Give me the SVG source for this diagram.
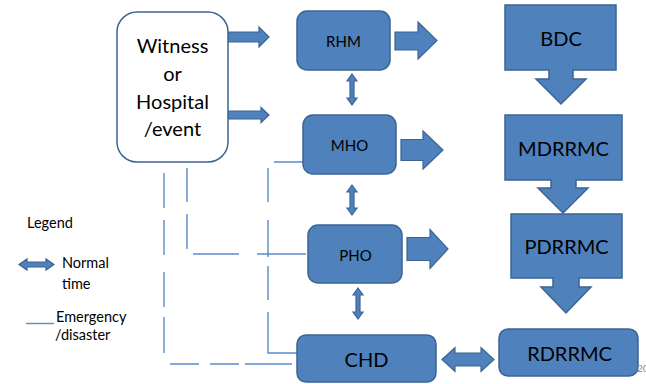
<svg xmlns="http://www.w3.org/2000/svg" width="646" height="384" viewBox="0 0 646 384">
  <style>
    .box { fill: #4F81BD; stroke: #3B6594; stroke-width: 1.5; }
    .src { fill: #FFFFFF; stroke: #3B6594; stroke-width: 1.5; }
    .arr { fill: #4F81BD; stroke: #3B6594; stroke-width: 1.2; stroke-linejoin: miter; }
    .dash { fill: none; stroke: #5B8BCB; stroke-width: 1.4; }
    text { font-family: Lato, "Liberation Sans", sans-serif; fill: #000000; text-anchor: middle; }
    .big { font-size: 20px; }
    .small { font-size: 15px; }
    .leg { font-size: 14.5px; text-anchor: start; }
  </style>

  <rect width="646" height="384" fill="#FFFFFF"/>

  <!-- emergency / disaster paths (dashed) -->
  <g id="connectors">
    <path class="dash" d="M164,173 V364 H297" stroke-dasharray="35 12 35 17 35 10 36 17 29 11 29 6 47 10"/>
    <path class="dash" d="M187,168 V254 H308" stroke-dasharray="34 12 35 11 46 18 49"/>
    <path class="dash" d="M303,162 H268 V353 H297" stroke-dasharray="29 12 34 18 37 9 34 12 70"/>

    <!-- normal-time links -->
    <path class="arr" d="M228,32 H259 V27 L269,37 L259,47 V42 H228 Z"/>
    <path class="arr" d="M228,111 H261 V107.5 L269,115 L261,122.5 V119 H228 Z"/>
    <path class="arr" d="M395,32 H418 V22 L437,40.5 L418,59 V50 H395 Z"/>
    <path class="arr" d="M401,139.5 H423 V131 L443,150 L423,169 V160.5 H401 Z"/>
    <path class="arr" d="M407,237.5 H430 V229.5 L448,249 L430,268.5 V260.5 H407 Z"/>

    <path class="arr" d="M352,74 L357,81 L354,81 L354,98 L357,98 L352,105 L347,98 L350,98 L350,81 L347,81 Z"/>
    <path class="arr" d="M352,185 L357,192 L354,192 L354,208 L357,208 L352,215 L347,208 L350,208 L350,192 L347,192 Z"/>
    <path class="arr" d="M358,288 L363,295 L360,295 L360,312 L363,312 L358,319 L353,312 L356,312 L356,295 L353,295 Z"/>
    <path class="arr" d="M442,359.5 L455,347.5 L455,353 L481,353 L481,347.5 L494,359.5 L481,371.5 L481,366 L455,366 L455,371.5 Z"/>
  </g>

  <g id="witness">
    <rect class="src" x="117" y="12" width="111" height="150" rx="20"/>
    <text class="big" x="172.5" y="53">Witness</text>
    <text class="big" x="172.5" y="81">or</text>
    <text class="big" x="172.5" y="108.5">Hospital</text>
    <text class="big" x="172.5" y="136">/event</text>
  </g>

  <g id="rhm">
    <rect class="box" x="297" y="11" width="93" height="59" rx="10"/>
    <text class="small" x="343.5" y="46.5">RHM</text>
  </g>

  <g id="mho">
    <rect class="box" x="303" y="115" width="93" height="59" rx="10"/>
    <text class="small" x="349.5" y="150.5">MHO</text>
  </g>

  <g id="pho">
    <rect class="box" x="308" y="225" width="94" height="58" rx="10"/>
    <text class="small" x="355.5" y="260.5">PHO</text>
  </g>

  <g id="chd">
    <rect class="box" x="297" y="335" width="139" height="47" rx="9"/>
    <text class="big" x="366.5" y="367">CHD</text>
  </g>

  <g id="bdc">
    <path class="box" d="M505,5 H616 V70 H573 V79 H586 L561,104 L536,79 H549 V70 H505 Z"/>
    <text class="big" x="561" y="46">BDC</text>
  </g>

  <g id="mdrrmc">
    <path class="box" d="M505,115 H622 V180 H576 V188 H588 L563,213 L538,188 H551 V180 H505 Z"/>
    <text class="big" x="563.5" y="156">MDRRMC</text>
  </g>

  <g id="pdrrmc">
    <path class="box" d="M511,214 H622 V278 H579 V287 H591 L566,313 L541,287 H553 V278 H511 Z"/>
    <text class="big" x="566.5" y="254">PDRRMC</text>
  </g>

  <g id="rdrrmc">
    <rect class="box" x="499" y="329" width="139" height="47" rx="9"/>
    <text class="big" x="569.5" y="360.5">RDRRMC</text>
  </g>

  <g id="legend">
    <text class="leg" x="27" y="228">Legend</text>
    <path class="arr" d="M19,264.5 L27,259 L27,262 L46,262 L46,259 L54,264.5 L46,270 L46,267 L27,267 L27,270 Z"/>
    <text class="leg" x="62" y="268">Normal</text>
    <text class="leg" x="62" y="289">time</text>
    <line class="dash" x1="26" y1="323.5" x2="54" y2="323.5"/>
    <text class="leg" x="56" y="321.5">Emergency</text>
    <text class="leg" x="55" y="340">/disaster</text>
  </g>

  <text x="637" y="372" style="font-size:10px; fill:#8C8C8C; text-anchor:start;">20</text>
</svg>
